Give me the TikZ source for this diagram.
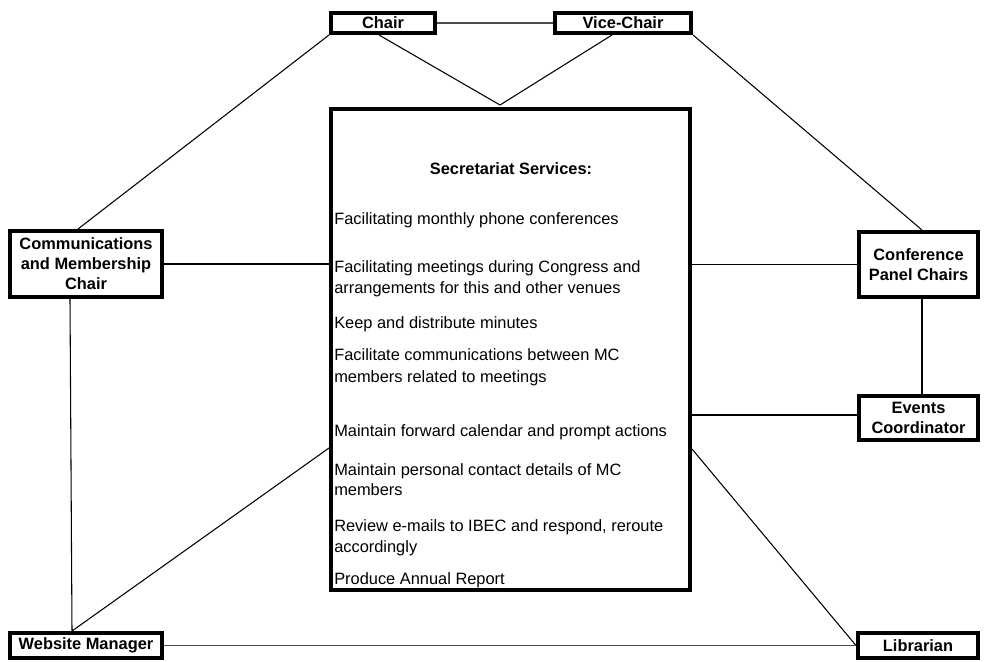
\documentclass[tikz,border=0pt]{standalone}
\usepackage{fontspec}
\setmainfont{Liberation Sans}
\usetikzlibrary{calc}
\newcommand\pxu{0.75pt}
\begin{document}
\begin{tikzpicture}[x=0.75pt,y=-0.75pt,
  box/.style={draw=black, line width=3pt, fill=white, inner sep=0pt,
    font=\fontsize{12.3}{15}\selectfont\bfseries, align=center},
  conn/.style={draw=black, line width=0.8pt},
  gconn/.style={draw=black!70, line width=1.3pt},
  item/.style={anchor=base west, inner sep=0pt, font=\fontsize{12.3}{15.75}\selectfont}]
\useasboundingbox (0,0) rectangle (984,661);

% boxes
\node[box, minimum width=104*\pxu, minimum height=20*\pxu] (chair) at (383,23) {Chair};
\node[box, minimum width=136*\pxu, minimum height=20*\pxu] (vice) at (623,23) {Vice-Chair};
\node[box, minimum width=359*\pxu, minimum height=481*\pxu] (main) at (510.5,349.5) {};
\node[box, minimum width=152*\pxu, minimum height=66*\pxu] (comm) at (86,264) {Communications\\and Membership\\Chair};
\node[box, minimum width=119*\pxu, minimum height=65*\pxu] (conf) at (918.5,264.5) {Conference\\Panel Chairs};
\node[box, minimum width=119*\pxu, minimum height=44*\pxu] (events) at (918.5,418) {Events\\Coordinator};
\node[box, minimum width=152*\pxu, minimum height=25*\pxu] (web) at (86,645.5) {Website Manager};
\node[box, minimum width=120*\pxu, minimum height=25*\pxu] (lib) at (918,645.5) {Librarian};

% text inside the secretariat box
\node[anchor=base, inner sep=0pt, font=\fontsize{12.3}{15}\selectfont\bfseries] (head) at (511,174) {Secretariat Services:};
\node[item] (t1) at (334,224) {Facilitating monthly phone conferences};
\node[item] (t2a) at (334,272) {Facilitating meetings during Congress and};
\node[item] (t2b) at (334,293) {arrangements for this and other venues};
\node[item] (t3) at (334,328) {Keep and distribute minutes};
\node[item] (t4a) at (334,360) {Facilitate communications between MC};
\node[item] (t4b) at (334,382) {members related to meetings};
\node[item] (t5) at (334,436) {Maintain forward calendar and prompt actions};
\node[item] (t6a) at (334,475) {Maintain personal contact details of MC};
\node[item] (t6b) at (334,495) {members};
\node[item] (t7a) at (334,531) {Review e-mails to IBEC and respond, reroute};
\node[item] (t7b) at (334,552) {accordingly};
\node[item] (t8) at (334,584) {Produce Annual Report};

% connectors
\coordinate (apex) at (500,105);
\draw[gconn] (chair.east) -- (vice.west);
\draw[conn] ($(chair.south)+(-4,0)$) -- (apex) -- ($(vice.south)+(-11,0)$);
\draw[conn] (chair.south west) -- ($(comm.north)+(-8,0)$);
\draw[conn] (vice.south east) -- ($(conf.north)+(3.5,0)$);
\draw[conn] (comm.east) -- (comm.east -| main.west);
\draw[conn] (conf.west -| main.east) -- (conf.west);
\draw[conn] ($(conf.south)+(3.5,0)$) -- ($(events.north)+(3.5,0)$);
\draw[conn] ($(events.west -| main.east)+(0,-3)$) -- ($(events.west)+(0,-3)$);
\draw[conn] ($(comm.south)+(-16,0)$) -- ($(web.north)+(-14,0)$) -- ($(main.west)+(0,98.5)$);
\draw[conn] ($(main.east)+(0,99.5)$) -- (lib.west);
\draw[gconn] (web.east) -- (lib.west);
\end{tikzpicture}
\end{document}
